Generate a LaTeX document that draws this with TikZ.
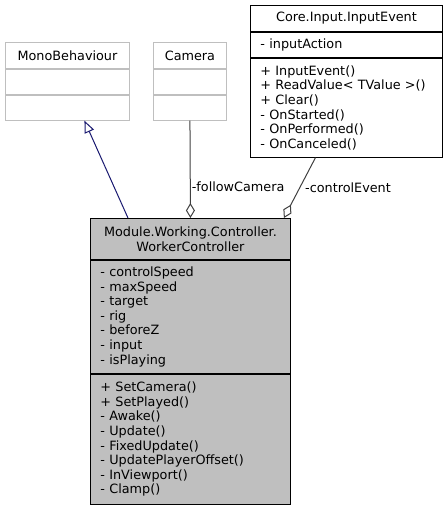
\documentclass[tikz,border=0pt]{standalone}
\usepackage{fontspec}
\setmainfont{DejaVu Sans}
\usetikzlibrary{arrows.meta}
\definecolor{boxgray}{HTML}{BFBFBF}
\definecolor{edgeblue}{HTML}{191970}
\definecolor{edgegray}{HTML}{404040}
\tikzset{
  umlbox/.style={draw,line width=0.9pt,inner sep=0pt,anchor=north west,
    font=\fontsize{12.8}{14.6}\selectfont},
  faded/.style={umlbox,draw=boxgray},
  member/.style={align=left,inner xsep=10pt},
  inherit/.style={draw=edgeblue,line width=1pt,-{Triangle[open,length=12pt,width=10pt]}},
  usage/.style={draw=edgegray,line width=1pt,{Diamond[open,length=15pt,width=9pt]}-},
  rolelabel/.style={font=\fontsize{12.8}{14.6}\selectfont,anchor=west,inner sep=1pt}
}
\begin{document}
\begin{tikzpicture}[x=1pt,y=-1pt]
\useasboundingbox (0,0) rectangle (447,507);
% MonoBehaviour
\node[faded,minimum width=124,minimum height=26] (mono) at (5,42) {MonoBehaviour};
\node[faded,minimum width=124,minimum height=25] (monoattr) at (mono.south west) {};
\node[faded,minimum width=124,minimum height=25] (monometh) at (monoattr.south west) {};
% Camera
\node[faded,minimum width=73,minimum height=26] (cam) at (153,42) {Camera};
\node[faded,minimum width=73,minimum height=25] (camattr) at (cam.south west) {};
\node[faded,minimum width=73,minimum height=25] (cammeth) at (camattr.south west) {};
% Core.Input.InputEvent
\node[umlbox,minimum width=192,minimum height=26] (ie) at (250,5) {Core.Input.InputEvent};
\node[umlbox,member,text width=172,minimum height=25] (ieattr) at (ie.south west) {- inputAction};
\node[umlbox,member,text width=172,minimum height=99] (iemeth) at (ieattr.south west)
  {+ InputEvent()\\+ ReadValue< TValue >()\\+ Clear()\\- OnStarted()\\- OnPerformed()\\- OnCanceled()};
% WorkerController
\node[umlbox,fill=boxgray,align=center,minimum width=200,minimum height=41] (wc) at (90,218)
  {Module.Working.Controller.\\WorkerController};
\node[umlbox,member,fill=boxgray,text width=180,minimum height=113] (wcattr) at (wc.south west)
  {- controlSpeed\\- maxSpeed\\- target\\- rig\\- beforeZ\\- input\\- isPlaying};
\node[umlbox,member,fill=boxgray,text width=180,minimum height=130] (wcmeth) at (wcattr.south west)
  {+ SetCamera()\\+ SetPlayed()\\- Awake()\\- Update()\\- FixedUpdate()\\- UpdatePlayerOffset()\\- InViewport()\\- Clamp()};
% relations
\draw[inherit] ([xshift=38pt]wc.north west) -- ([xshift=17pt]monometh.south);
\draw[usage] (wc.north) -- (cammeth.south) node[rolelabel,pos=0.32] {-followCamera};
\draw[usage] ([xshift=-7pt]wc.north east) -- ([xshift=-31pt]iemeth.south)
  node[rolelabel,pos=0.5,xshift=4pt] {-controlEvent};
\end{tikzpicture}
\end{document}
